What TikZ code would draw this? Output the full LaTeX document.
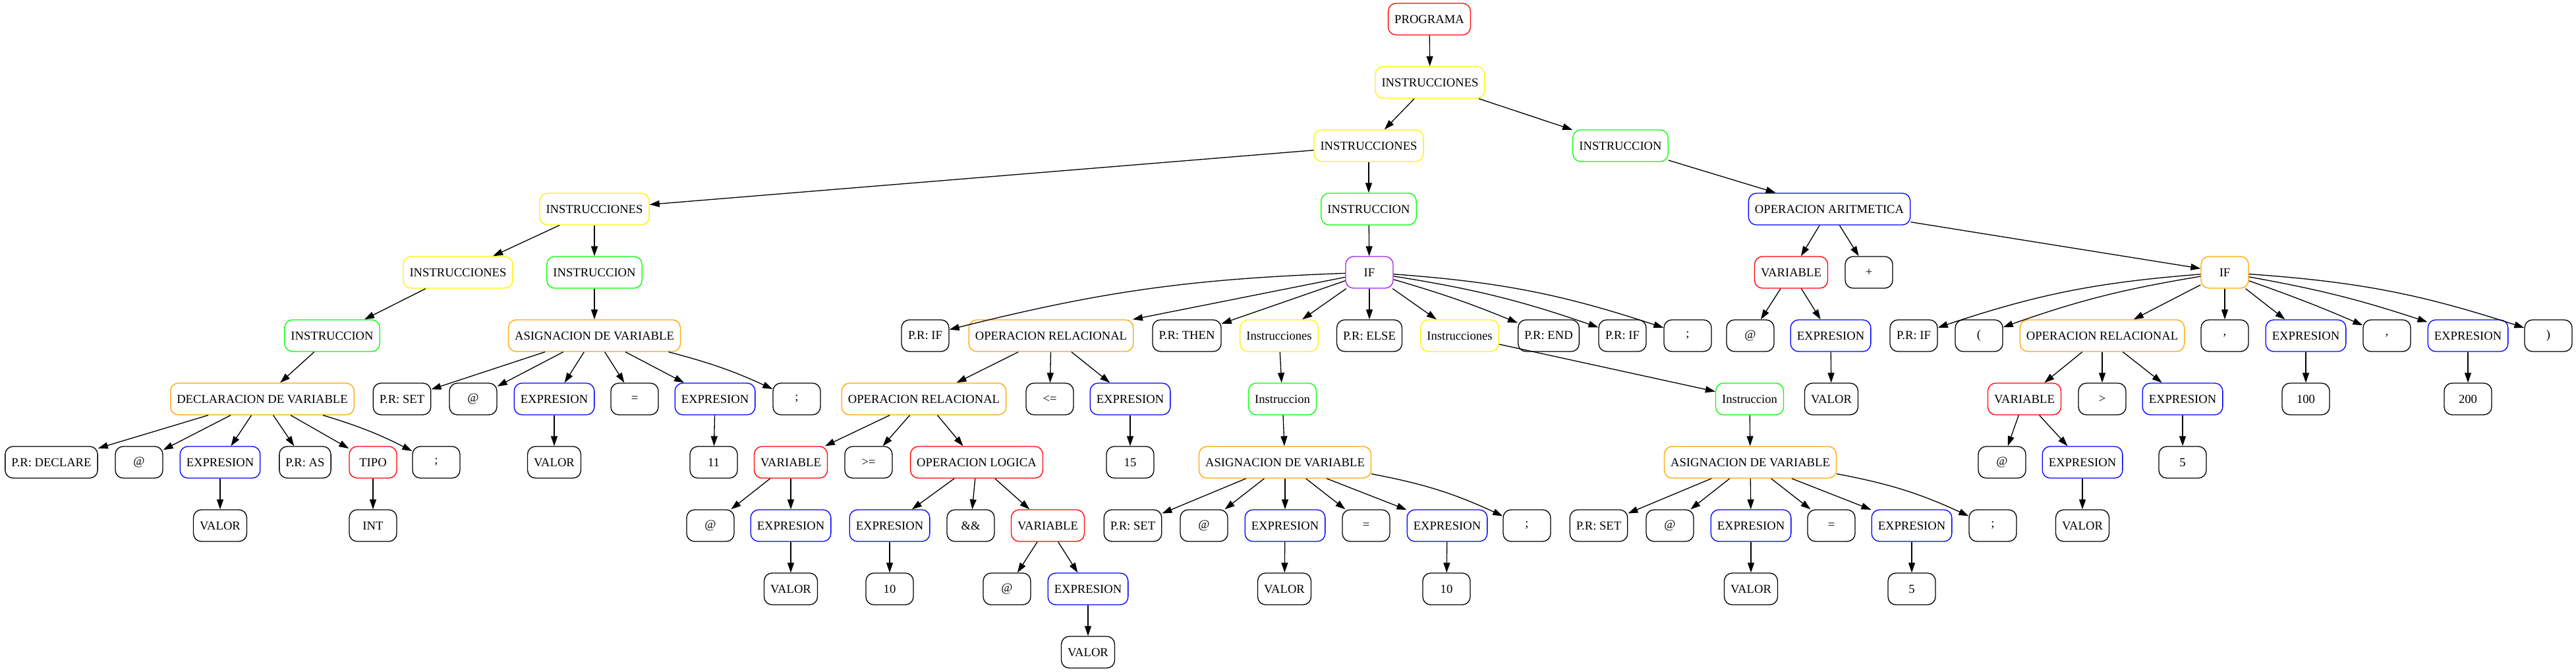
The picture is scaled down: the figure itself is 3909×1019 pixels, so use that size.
\documentclass[tikz,border=0pt]{standalone}
\usepackage{fontspec}
\setmainfont{Liberation Serif}
\usetikzlibrary{arrows.meta}

\definecolor{gvorange}{HTML}{FFA500}
\definecolor{gvpurple}{HTML}{A020F0}

\begin{document}
\begin{tikzpicture}[x=0.2mm, y=0.2mm,
    box/.style={draw=black, line width=0.75pt, rounded corners=2.4mm,
      minimum width=14.4mm, minimum height=9.6mm, inner xsep=1.92mm, inner ysep=0pt,
      font=\fontsize{10.6}{12}\selectfont},
    edge/.style={-{Triangle[length=3mm, width=2mm]}, line width=0.75pt}]
    \useasboundingbox (0,0) rectangle (3909,-1019);

    % ---------- rows 0-4: program spine ----------
    \node[box, draw=red] (prog) at (2169,-29) {PROGRAMA};
    \node[box, draw=yellow] (ins1) at (2170,-125) {INSTRUCCIONES};
    \node[box, draw=yellow] (ins2) at (2077,-221) {INSTRUCCIONES};
    \node[box, draw=green] (inst2) at (2459,-221) {INSTRUCCION};
    \node[box, draw=yellow] (ins3) at (902,-317) {INSTRUCCIONES};
    \node[box, draw=green] (inst3) at (2077,-317) {INSTRUCCION};
    \node[box, draw=blue] (opar) at (2776,-317) {OPERACION ARITMETICA};
    \node[box, draw=yellow] (ins4) at (695,-413) {INSTRUCCIONES};
    \node[box, draw=green] (inst4) at (902,-413) {INSTRUCCION};
    \node[box, draw=gvpurple] (ifa) at (2078,-413) {IF};
    \node[box, draw=red] (varA) at (2718,-413) {VARIABLE};
    \node[box] (plus) at (2836,-413) {+};
    \node[box, draw=gvorange] (ifb) at (3376,-413) {IF};

    % ---------- row 5 ----------
    \node[box, draw=green] (inst5) at (504,-509) {INSTRUCCION};
    \node[box, draw=gvorange] (asigA) at (902,-509) {ASIGNACION DE VARIABLE};
    \node[box] (prifA) at (1404,-509) {P.R: IF};
    \node[box, draw=gvorange] (oprA) at (1595,-509) {OPERACION RELACIONAL};
    \node[box] (thenA) at (1801,-509) {P.R: THEN};
    \node[box, draw=yellow] (instsA) at (1941,-509) {Instrucciones};
    \node[box] (elseA) at (2078,-509) {P.R: ELSE};
    \node[box, draw=yellow] (instsB) at (2215,-509) {Instrucciones};
    \node[box] (endA) at (2350,-509) {P.R: END};
    \node[box] (prifC) at (2462,-509) {P.R: IF};
    \node[box] (semiA) at (2561,-509) {;};
    \node[box] (atA) at (2656,-509) {@};
    \node[box, draw=blue] (expA) at (2778,-509) {EXPRESION};
    \node[box] (prifB) at (2904,-509) {P.R: IF};
    \node[box] (lpar) at (3003,-509) {(};
    \node[box, draw=gvorange] (oprB) at (3190,-509) {OPERACION RELACIONAL};
    \node[box] (comA) at (3376,-509) {,};
    \node[box, draw=blue] (expB) at (3499,-509) {EXPRESION};
    \node[box] (comB) at (3622,-509) {,};
    \node[box, draw=blue] (expC) at (3745,-509) {EXPRESION};
    \node[box] (rpar) at (3867,-509) {)};

    % ---------- row 6 ----------
    \node[box, draw=gvorange] (decl) at (398,-605) {DECLARACION DE VARIABLE};
    \node[box] (setA) at (610,-605) {P.R: SET};
    \node[box] (atB) at (718,-605) {@};
    \node[box, draw=blue] (expD) at (841,-605) {EXPRESION};
    \node[box] (eqA) at (963,-605) {=};
    \node[box, draw=blue] (expE) at (1085,-605) {EXPRESION};
    \node[box] (semiB) at (1209,-605) {;};
    \node[box, draw=gvorange] (oprC) at (1402,-605) {OPERACION RELACIONAL};
    \node[box] (le) at (1593,-605) {<=};
    \node[box, draw=blue] (expF) at (1715,-605) {EXPRESION};
    \node[box, draw=green] (instA) at (1946,-605) {Instruccion};
    \node[box, draw=green] (instB) at (2655,-605) {Instruccion};
    \node[box] (valA) at (2779,-605) {VALOR};
    \node[box, draw=red] (varB) at (3072,-605) {VARIABLE};
    \node[box] (gt) at (3190,-605) {>};
    \node[box, draw=blue] (expG) at (3312,-605) {EXPRESION};
    \node[box] (n100) at (3499,-605) {100};
    \node[box] (n200) at (3745,-605) {200};

    % ---------- row 7 ----------
    \node[box] (dcl) at (78,-701) {P.R: DECLARE};
    \node[box] (atC) at (211,-701) {@};
    \node[box, draw=blue] (expH) at (334,-701) {EXPRESION};
    \node[box] (asA) at (463,-701) {P.R: AS};
    \node[box, draw=red] (tipo) at (566,-701) {TIPO};
    \node[box] (semiC) at (662,-701) {;};
    \node[box] (valB) at (841,-701) {VALOR};
    \node[box] (n11) at (1083,-701) {11};
    \node[box, draw=red] (varC) at (1200,-701) {VARIABLE};
    \node[box] (ge) at (1318,-701) {>=};
    \node[box, draw=red] (opl) at (1482,-701) {OPERACION LOGICA};
    \node[box] (n15) at (1715,-701) {15};
    \node[box, draw=gvorange] (asigB) at (1950,-701) {ASIGNACION DE VARIABLE};
    \node[box, draw=gvorange] (asigC) at (2656,-701) {ASIGNACION DE VARIABLE};
    \node[box] (atD) at (3038,-701) {@};
    \node[box, draw=blue] (expI) at (3160,-701) {EXPRESION};
    \node[box] (n5a) at (3312,-701) {5};

    % ---------- row 8 ----------
    \node[box] (valC) at (334,-797) {VALOR};
    \node[box] (int) at (566,-797) {INT};
    \node[box] (atE) at (1078,-797) {@};
    \node[box, draw=blue] (expJ) at (1200,-797) {EXPRESION};
    \node[box, draw=blue] (expK) at (1350,-797) {EXPRESION};
    \node[box] (and) at (1473,-797) {\&\&};
    \node[box, draw=red] (varD) at (1590,-797) {VARIABLE};
    \node[box] (setB) at (1719,-797) {P.R: SET};
    \node[box] (atF) at (1827,-797) {@};
    \node[box, draw=blue] (expL) at (1950,-797) {EXPRESION};
    \node[box] (eqB) at (2073,-797) {=};
    \node[box, draw=blue] (expM) at (2196,-797) {EXPRESION};
    \node[box] (semiD) at (2317,-797) {;};
    \node[box] (setC) at (2426,-797) {P.R: SET};
    \node[box] (atG) at (2534,-797) {@};
    \node[box, draw=blue] (expN) at (2657,-797) {EXPRESION};
    \node[box] (eqC) at (2779,-797) {=};
    \node[box, draw=blue] (expO) at (2901,-797) {EXPRESION};
    \node[box] (semiE) at (3024,-797) {;};
    \node[box] (valD) at (3160,-797) {VALOR};

    % ---------- rows 9-10 ----------
    \node[box] (valE) at (1200,-893) {VALOR};
    \node[box] (n10a) at (1350,-893) {10};
    \node[box] (atH) at (1528,-893) {@};
    \node[box, draw=blue] (expP) at (1651,-893) {EXPRESION};
    \node[box] (valF) at (1949,-893) {VALOR};
    \node[box] (n10b) at (2195,-893) {10};
    \node[box] (valG) at (2657,-893) {VALOR};
    \node[box] (n5b) at (2901,-893) {5};
    \node[box] (valH) at (1651,-989) {VALOR};

    % ---------- edges ----------
    \draw[edge] (prog) -- (ins1);
    \draw[edge] (ins1) -- (ins2);
    \draw[edge] (ins1) -- (inst2);
    \draw[edge] (ins2) -- (ins3);
    \draw[edge] (ins2) -- (inst3);
    \draw[edge] (inst2) -- (opar);
    \draw[edge] (ins3) -- (ins4);
    \draw[edge] (ins3) -- (inst4);
    \draw[edge] (inst3) -- (ifa);
    \foreach \c in {varA,plus,ifb} \draw[edge] (opar) -- (\c);
    \draw[edge] (ins4) -- (inst5);
    \draw[edge] (inst4) -- (asigA);
    \draw[edge] (inst5) -- (decl);

    % IF (purple)
    \draw[edge] (ifa) to[bend right=6] (prifA);
    \foreach \c in {oprA,thenA,instsA,elseA,instsB} \draw[edge] (ifa) -- (\c);
    \draw[edge] (ifa) to[bend left=3] (endA);
    \draw[edge] (ifa) to[bend left=5] (prifC);
    \draw[edge] (ifa) to[bend left=7] (semiA);

    % IF (orange)
    \draw[edge] (ifb) to[bend right=7] (prifB);
    \draw[edge] (ifb) to[bend right=5] (lpar);
    \foreach \c in {oprB,comA,expB} \draw[edge] (ifb) -- (\c);
    \draw[edge] (ifb) to[bend left=2] (comB);
    \draw[edge] (ifb) to[bend left=4] (expC);
    \draw[edge] (ifb) to[bend left=7] (rpar);

    \foreach \c in {atA,expA} \draw[edge] (varA) -- (\c);
    \draw[edge] (expA) -- (valA);
    \foreach \c in {dcl,atC,expH,asA,tipo} \draw[edge] (decl) -- (\c);
    \draw[edge] (decl) to[bend left=5] (semiC);
    \foreach \c in {setA,atB,expD,eqA,expE} \draw[edge] (asigA) -- (\c);
    \draw[edge] (asigA) to[bend left=5] (semiB);
    \foreach \c in {oprC,le,expF} \draw[edge] (oprA) -- (\c);
    \draw[edge] (instsA) -- (instA);
    \draw[edge] (instsB) -- (instB);
    \foreach \c in {varB,gt,expG} \draw[edge] (oprB) -- (\c);
    \draw[edge] (expB) -- (n100);
    \draw[edge] (expC) -- (n200);
    \draw[edge] (expD) -- (valB);
    \draw[edge] (expE) -- (n11);
    \foreach \c in {varC,ge,opl} \draw[edge] (oprC) -- (\c);
    \draw[edge] (expF) -- (n15);
    \draw[edge] (instA) -- (asigB);
    \draw[edge] (instB) -- (asigC);
    \foreach \c in {atD,expI} \draw[edge] (varB) -- (\c);
    \draw[edge] (expG) -- (n5a);
    \draw[edge] (expH) -- (valC);
    \draw[edge] (tipo) -- (int);
    \foreach \c in {atE,expJ} \draw[edge] (varC) -- (\c);
    \foreach \c in {expK,and,varD} \draw[edge] (opl) -- (\c);
    \foreach \c in {setB,atF,expL,eqB,expM} \draw[edge] (asigB) -- (\c);
    \draw[edge] (asigB) to[bend left=7] (semiD);
    \foreach \c in {setC,atG,expN,eqC,expO} \draw[edge] (asigC) -- (\c);
    \draw[edge] (asigC) to[bend left=7] (semiE);
    \draw[edge] (expI) -- (valD);
    \draw[edge] (expJ) -- (valE);
    \draw[edge] (expK) -- (n10a);
    \foreach \c in {atH,expP} \draw[edge] (varD) -- (\c);
    \draw[edge] (expL) -- (valF);
    \draw[edge] (expM) -- (n10b);
    \draw[edge] (expN) -- (valG);
    \draw[edge] (expO) -- (n5b);
    \draw[edge] (expP) -- (valH);
  \end{tikzpicture}
\end{document}
